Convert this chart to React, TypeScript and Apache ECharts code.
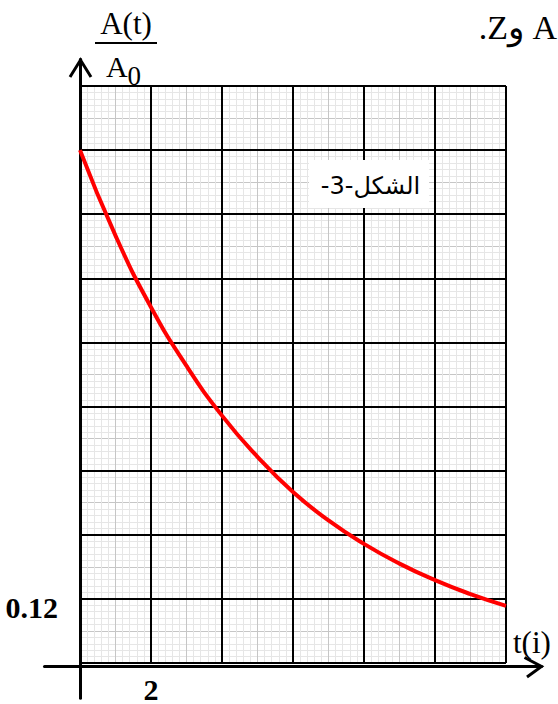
import React, { useEffect, useRef } from "react";
import * as echarts from "echarts";

// Time in days (t) and the read ratio A(t)/A0
const timeDays = [0, 1, 2, 3, 4, 5, 6, 7, 8, 9, 10, 11, 12];
const ratioValues = [0.96, 0.8, 0.666, 0.556, 0.463, 0.386, 0.32, 0.267, 0.223, 0.186, 0.155, 0.129, 0.107];

// Axis ranges / tick steps and the only printed tick labels
const xRange = [0, 12];
const yRange = [0, 1.08];
const xMajorStep = 2;
const yMajorStep = 0.12;
const xTickLabels = [2];
const yTickLabels = [0.12];

const serif = '"Liberation Serif", "Times New Roman", serif';
const arabicFont = '"DejaVu Sans", sans-serif';

export default function App() {
  const ref = useRef<HTMLDivElement>(null);
  useEffect(() => {
    document.body.style.margin = "0";
    const chart = echarts.init(ref.current!, null, { renderer: "svg" });
    const pxPerX = 426 / (xRange[1] - xRange[0]);
    const pxPerY = 580 / (yRange[1] - yRange[0]);
    const y0 = 86 + 580; // pixel of y = 0
    const ext = { xMin: -1, xMax: 13, yMin: -0.06, yMax: 1.13 };
    const grid2 = {
      left: 80 + ext.xMin * pxPerX,
      top: y0 - ext.yMax * pxPerY,
      width: (ext.xMax - ext.xMin) * pxPerX,
      height: (ext.yMax - ext.yMin) * pxPerY,
    };
    const hidden = { axisLine: { show: false }, axisTick: { show: false }, axisLabel: { show: false } };
    const near = (v: number, list: number[]) => list.some((l) => Math.abs(v - l) < 1e-6);
    const txt = (text: string, x: number, y: number, font: string, align = "left", z = 20) => ({
      type: "text", z, x, y,
      style: { text, font, fill: "#000", align, verticalAlign: "middle", textAlign: align, textVerticalAlign: "middle" },
    });
    const option: any = {
      animation: false,
      backgroundColor: "#ffffff",
      grid: [
        { left: 80, top: 86, width: 426, height: 580, containLabel: false },
        { ...grid2, containLabel: false },
      ],
      xAxis: [
        {
          gridIndex: 0, type: "value", position: "top", min: xRange[0], max: xRange[1], interval: xMajorStep / 2, z: 1,
          ...hidden,
          splitLine: { show: true, lineStyle: { color: "#c6c6c6", width: 1 } },
          minorTick: { show: false, splitNumber: 5 },
          minorSplitLine: { show: true, lineStyle: { color: "#e6e6e6", width: 1 } },
        },
        {
          gridIndex: 0, type: "value", position: "bottom", min: xRange[0], max: xRange[1], interval: xMajorStep, z: 2,
          axisLine: { show: false, onZero: false }, axisTick: { show: false },
          splitLine: { show: true, lineStyle: { color: "#000000", width: 2 } },
          axisLabel: {
            show: true, margin: 11, color: "#000", fontFamily: serif, fontSize: 30, fontWeight: "bold",
            verticalAlign: "top", lineHeight: 30,
            formatter: (v: number) => (near(v, xTickLabels) ? String(v) : ""),
          },
        },
        {
          gridIndex: 1, type: "value", min: ext.xMin, max: ext.xMax, z: 3,
          axisLine: { show: true, onZero: true, lineStyle: { color: "#000", width: 3 } },
          axisTick: { show: false }, axisLabel: { show: false }, splitLine: { show: false },
        },
      ],
      yAxis: [
        {
          gridIndex: 0, type: "value", position: "right", min: yRange[0], max: yRange[1], interval: yMajorStep / 2, z: 1,
          ...hidden,
          splitLine: { show: true, lineStyle: { color: "#c6c6c6", width: 1 } },
          minorTick: { show: false, splitNumber: 5 },
          minorSplitLine: { show: true, lineStyle: { color: "#e6e6e6", width: 1 } },
        },
        {
          gridIndex: 0, type: "value", position: "left", min: yRange[0], max: yRange[1], interval: yMajorStep, z: 2,
          axisLine: { show: false, onZero: false }, axisTick: { show: false },
          splitLine: { show: true, lineStyle: { color: "#000000", width: 2 } },
          axisLabel: {
            show: true, margin: 22, color: "#000", fontFamily: serif, fontSize: 30, fontWeight: "bold",
            verticalAlign: "top", lineHeight: 18,
            formatter: (v: number) => (near(v, yTickLabels) ? String(v) : ""),
          },
        },
        {
          gridIndex: 1, type: "value", min: ext.yMin, max: ext.yMax, z: 3,
          axisLine: { show: true, onZero: true, lineStyle: { color: "#000", width: 3 } },
          axisTick: { show: false }, axisLabel: { show: false }, splitLine: { show: false },
        },
      ],
      series: [
        {
          type: "line",
          xAxisIndex: 1,
          yAxisIndex: 1,
          data: timeDays.map((t, i) => [t, ratioValues[i]]),
          smooth: true,
          showSymbol: false,
          clip: false,
          lineStyle: { color: "#ff0000", width: 4 },
          z: 6,
        },
      ],
      graphic: [
        // arrow heads
        { type: "polyline", z: 20, shape: { points: [[70, 77], [80.5, 60], [91, 77]] }, style: { stroke: "#000", lineWidth: 3, fill: "none" } },
        { type: "polyline", z: 20, shape: { points: [[524.5, 657.5], [541.5, 666.5], [527, 677]] }, style: { stroke: "#000", lineWidth: 3, fill: "none" } },
        // y title as a fraction A(t)/A0
        txt("A(t)", 126, 23.5, `31px ${serif}`, "center"),
        { type: "line", z: 20, shape: { x1: 95, y1: 43, x2: 157, y2: 43 }, style: { stroke: "#000", lineWidth: 2 } },
        txt("A", 106, 66.5, `30px ${serif}`),
        txt("0", 127.5, 76, `27px ${serif}`),
        // x title
        txt("t(i)", 513, 642, `31px ${serif}`),
        // heading fragment top right
        txt(".Zو A", 557, 27.5, `34px ${serif}`, "right"),
        // figure label box
        { type: "rect", z: 20, shape: { x: 309, y: 160, width: 120, height: 48 }, style: { fill: "#ffffff" } },
        txt("-3-الشكل", 370.5, 186, `24px ${arabicFont}`, "center", 21),
      ],
    };
    chart.setOption(option);
    return () => chart.dispose();
  }, []);
  return <div ref={ref} style={{ position: "absolute", left: 0, top: 0, width: 558, height: 704 }} />;
}
